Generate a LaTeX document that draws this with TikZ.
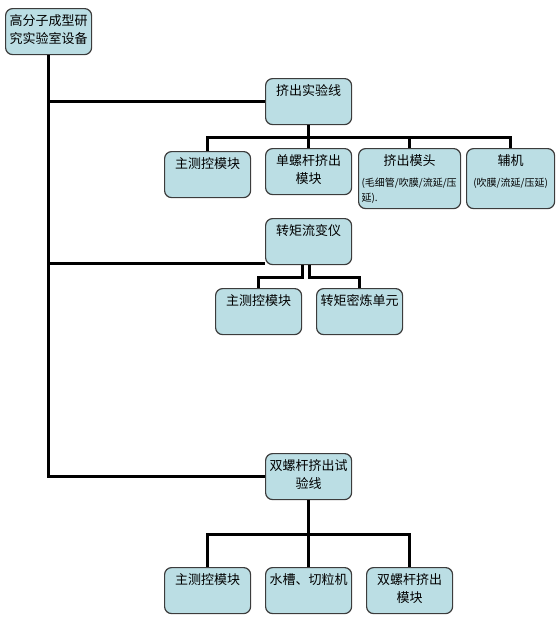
\documentclass[tikz,border=0pt]{standalone}
\usepackage{fontspec}
\setmainfont{Noto Sans CJK SC}
\definecolor{boxfill}{RGB}{187,222,228}
\definecolor{boxline}{RGB}{60,60,60}
\tikzset{
  box/.style={draw=boxline, fill=boxfill, line width=1.2pt, rounded corners=7pt,
    anchor=north west, inner xsep=3pt, inner ysep=5pt, text width=80pt,
    align=center, text height=12pt, text depth=24pt,
    font=\fontsize{13}{18}\selectfont},
  tall/.style={text depth=38pt},
  link/.style={line width=3pt},
}
\newcommand{\smalltxt}[1]{{\fontsize{10}{14}\selectfont #1}}
\begin{document}
\begin{tikzpicture}[x=1pt, y=-1pt]
    \useasboundingbox (0,0) rectangle (560,622);
    % Racine
    \node[box] (root) at (5,8) {高分子成型研\\究实验室设备};

    % Lignes
    \node[box] (extr) at (265,78) {挤出实验线};
    \node[box] (tor) at (265,218) {转矩流变仪};
    \node[box] (twin) at (265,453) {双螺杆挤出试\\验线};

    % Modules
    \node[box] (e1) at (164,151) {主测控模块};
    \node[box] (e2) at (265,148) {单螺杆挤出\\模块};
    \node[box, tall, text width=96pt] (e3) at (358,148)
        {挤出模头\\[3pt]\makebox[96pt][l]{\smalltxt{(毛细管/吹膜/流延/压}}\\[-3pt]\makebox[96pt][l]{\smalltxt{延).}}};
    \node[box, tall, text width=82pt] (e4) at (466,148) {辅机\\[3pt]\smalltxt{(吹膜/流延/压延)}};
    \node[box] (t1) at (215,288) {主测控模块};
    \node[box] (t2) at (316,288) {转矩密炼单元};
    \node[box] (w1) at (164,567) {主测控模块};
    \node[box] (w2) at (265,567) {水槽、切粒机};
    \node[box] (w3) at (366,567) {双螺杆挤出\\模块};

    % Tronc
    \draw[link] (root.south) |- (extr.west);
    \draw[link] (root.south) |- ([yshift=2pt]tor.south west);
    \draw[link] (root.south) |- (twin.west);

    % Branches
    \coordinate (bus1) at (0,137);
    \draw[link] (extr.south) -- (extr.south |- bus1);
    \draw[link] (e1.north) |- (bus1 -| e4.north) -- (e4.north);
    \foreach \n in {e2,e3}
        \draw[link] (\n.north) -- (\n.north |- bus1);

    \draw[link] ([xshift=-6pt]tor.south) -- ++(0,12) -| (t1.north);
    \draw[link] ([xshift=1pt]tor.south) -- ++(0,12) -| (t2.north);

    \coordinate (bus3) at (0,534);
    \draw[link] (twin.south) -- (twin.south |- bus3);
    \draw[link] (w1.north) |- (bus3 -| w3.north) -- (w3.north);
    \draw[link] (w2.north) -- (w2.north |- bus3);
\end{tikzpicture}
\end{document}
